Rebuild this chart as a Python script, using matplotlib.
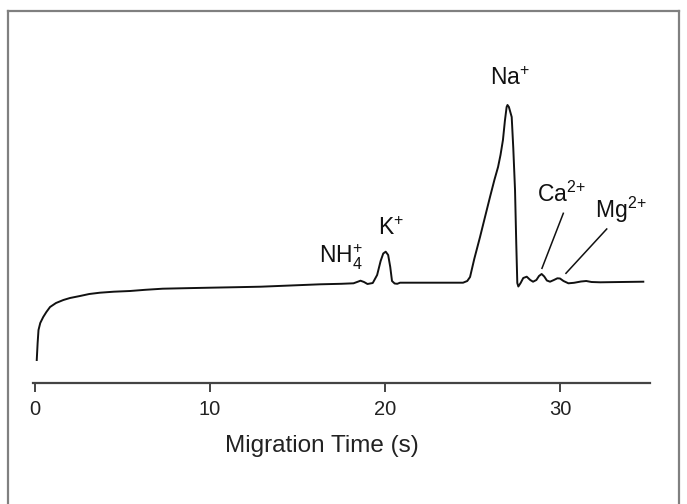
import numpy as np
import matplotlib.pyplot as plt
from matplotlib.lines import Line2D

# electropherogram (time in s, signal in arbitrary units)
time_s = [0.10, 0.15, 0.20, 0.30, 0.47, 0.65, 0.86, 1.2, 1.62, 2.0, 2.57, 3.1,
          3.71, 4.5, 5.43, 6.3, 7.3, 8.6, 10.0, 11.5, 12.9, 14.6, 16.3, 17.5,
          18.2, 18.45, 18.6, 18.8, 19.0, 19.3, 19.55, 19.75, 19.9, 20.04, 20.18,
          20.3, 20.4, 20.55, 20.7, 20.86, 22.5, 24.46, 24.7, 24.86, 25.1, 25.43,
          25.7, 26.0, 26.25, 26.46, 26.6, 26.74, 26.85, 26.95, 27.0, 27.08,
          27.24, 27.33, 27.43, 27.5, 27.56, 27.62, 27.75, 27.9, 28.1, 28.3,
          28.46, 28.65, 28.8, 28.95, 29.1, 29.25, 29.43, 29.65, 29.85, 30.0,
          30.2, 30.48, 30.8, 31.2, 31.5, 31.8, 32.3, 33.5, 34.76]
signal = [23, 40, 53, 60, 66, 71, 76, 80, 83, 85, 87, 89,
          90.3, 91.3, 92, 93.2, 94.3, 94.8, 95.3, 95.8, 96.3, 97.5, 98.7, 99.2,
          99.7, 101.3, 102.3, 101.0, 99, 100, 108, 122, 129.5, 131.3, 128,
          116, 102, 99.5, 99.2, 100.3, 100.3, 100.3, 102, 106, 124, 146,
          165, 186, 203, 216, 228, 243, 262, 276, 278, 276,
          266, 235, 193, 140, 100, 96.5, 100, 105, 106.3, 103,
          101.3, 103, 107, 109, 106.5, 102.5, 101.3, 103, 104.7, 104.5,
          102, 99.7, 100.2, 101.5, 102, 101, 100.7, 101, 101.3]

xticks = [0, 10, 20, 30]

plt.rcParams['font.family'] = ['Liberation Sans', 'DejaVu Sans']
plt.rcParams['mathtext.fontset'] = 'custom'
plt.rcParams['mathtext.rm'] = 'Liberation Sans'
plt.rcParams['mathtext.it'] = 'Liberation Sans'

fig = plt.figure(figsize=(6.87, 5.04), dpi=100)
ax = fig.add_axes([33 / 687, 121 / 504, 617 / 687, 363 / 504])

ax.plot(time_s, signal, color='#111111', lw=1.4)
ax.set_xlim(-2 / 17.5, 615 / 17.5)
ax.set_ylim(0, 363)

for s in ['top', 'right', 'left']:
    ax.spines[s].set_visible(False)
ax.spines['bottom'].set_color('#444444')
ax.spines['bottom'].set_linewidth(1.6)
ax.set_yticks([])
ax.set_xticks(xticks)
ax.tick_params(axis='x', length=6.5, width=1.4, color='#444444',
               labelsize=14.5, pad=6, labelcolor='#222222')

fig.text(321.5 / 687, 1 - 452 / 504, 'Migration Time (s)', ha='center',
         va='baseline', fontsize=17.5, color='#222222')

lab = dict(fontsize=16.5, color='#111111', va='baseline', ha='left')
ax.text(489.5 / 17.5 - 2, 298, r'$\mathregular{Na^{+}}$', **lab)
ax.text(377.7 / 17.5 - 2, 148, r'$\mathregular{K^{+}}$', **lab)
ax.text(318.6 / 17.5 - 2, 119.7, r'$\mathregular{NH_4^{+}}$', **lab)
ax.text(536.8 / 17.5 - 2, 181.3, r'$\mathregular{Ca^{2\!+}}$', **lab)
ax.text(594.7 / 17.5 - 2, 164.7, r'$\mathregular{Mg^{2\!+}}$', **lab)

# leader lines for the small peaks
ax.plot([30.19, 28.97], [169.7, 114.7], color='#111111', lw=1.1)
ax.plot([32.67, 30.34], [154, 109.7], color='#111111', lw=1.1)

# grey frame round the figure
fc = '#808080'
fig.add_artist(Line2D([8 / 687, 8 / 687], [0, 1 - 11 / 504], color=fc, lw=1.6))
fig.add_artist(Line2D([8 / 687, 679 / 687], [1 - 11 / 504, 1 - 11 / 504], color=fc, lw=1.6))
fig.add_artist(Line2D([679 / 687, 679 / 687], [1 - 11 / 504, 0], color=fc, lw=1.6))

fig.savefig('out.png', dpi=100)
